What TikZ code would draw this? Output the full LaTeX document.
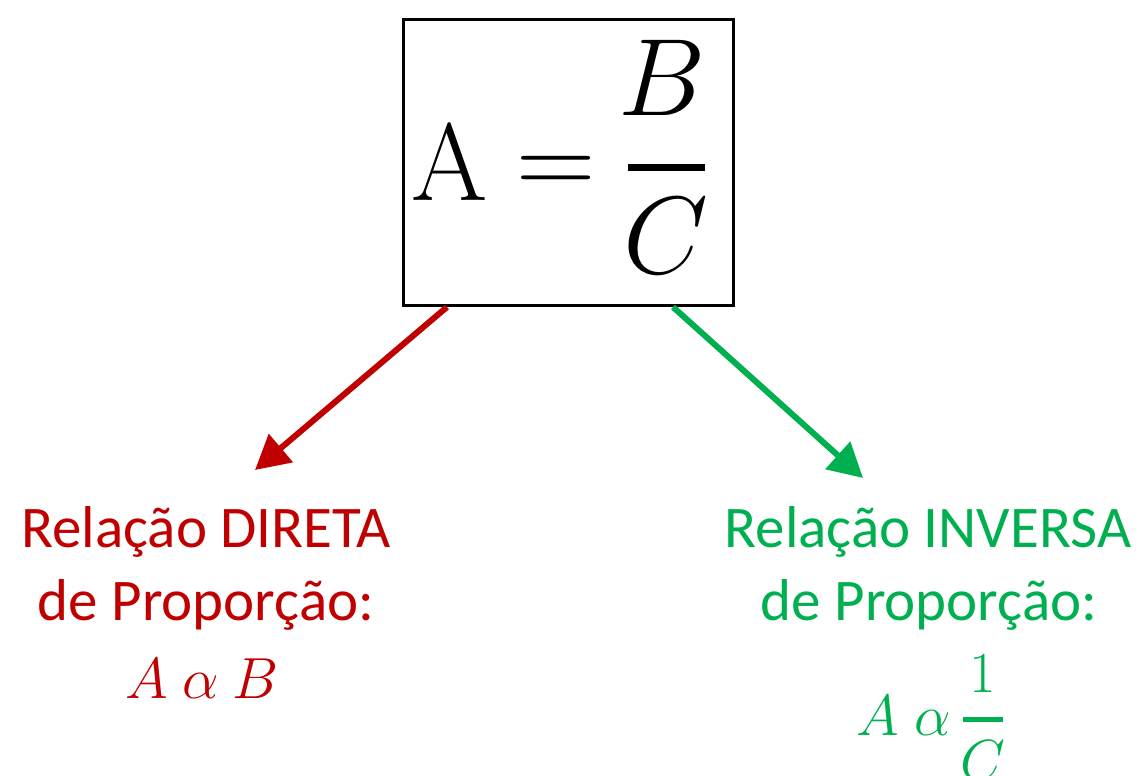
\RequirePackage{fix-cm}
\documentclass[tikz,border=0pt]{standalone}
\usepackage{fontspec}
\newfontfamily\labelfont{Carlito}
\usetikzlibrary{arrows.meta}
\definecolor{dred}{HTML}{C00000}
\definecolor{dgreen}{HTML}{00B050}
\begin{document}
\begin{tikzpicture}[x=1pt,y=-1pt,
  lbl/.style={anchor=base, inner sep=0pt, font=\labelfont\fontsize{59}{70}\selectfont},
  big/.style={anchor=base, inner sep=0pt, font=\fontsize{110}{120}\selectfont},
  small/.style={anchor=base, inner sep=0pt, font=\fontsize{58}{66}\selectfont},
  conn/.style={line width=6pt, -{Triangle[length=34pt,width=36pt]}},
  fracbar/.style={line width=#1},
]
\useasboundingbox (0,0) rectangle (1148,776);
% formula box
\node[draw, line width=3pt, minimum width=330pt, minimum height=286pt, inner sep=0pt] (box) at (568.5,162.5) {};
\node[big] (bigA) at (450,200) {$\mathrm{A}$};
\node[big] (eq) at (556,195) {$=$};
\node[big] (bigB) at (662,115) {$B$};
\node[big] (bigC) at (666,273) {$C$};
\coordinate (fb1) at (628,167);
\coordinate (fb2) at (705,167);
\draw[fracbar=7pt] (fb1) -- (fb2);
% connectors
\coordinate (rs) at (447,307);
\coordinate (re) at (255,470);
\coordinate (gs) at (673,307);
\coordinate (ge) at (863,478);
\draw[conn, dred] (rs) -- (re);
\draw[conn, dgreen] (gs) -- (ge);
% red label
\node[lbl, text=dred] (r1) at (206,547) {Relação DIRETA};
\node[lbl, text=dred] (r2) at (206,620) {de Proporção:};
\node[small, text=dred] (ra) at (146.5,698) {$A$};
\node[small, text=dred] (ralpha) at (200.5,698) {$\alpha$};
\node[small, text=dred] (rb) at (255.5,698) {$B$};
% green label
\node[lbl, text=dgreen] (g1) at (928,547) {Relação INVERSA};
\node[lbl, text=dgreen] (g2) at (929,620) {de Proporção:};
\node[small, text=dgreen] (ga) at (877.5,735) {$A$};
\node[small, text=dgreen] (galpha) at (932.5,735) {$\alpha$};
\node[small, text=dgreen] (gone) at (983,692) {$1$};
\node[small, text=dgreen] (gc) at (983,780) {$C$};
\coordinate (gb1) at (963,719);
\coordinate (gb2) at (1003,719);
\draw[fracbar=5pt, dgreen] (gb1) -- (gb2);
\end{tikzpicture}
\end{document}
